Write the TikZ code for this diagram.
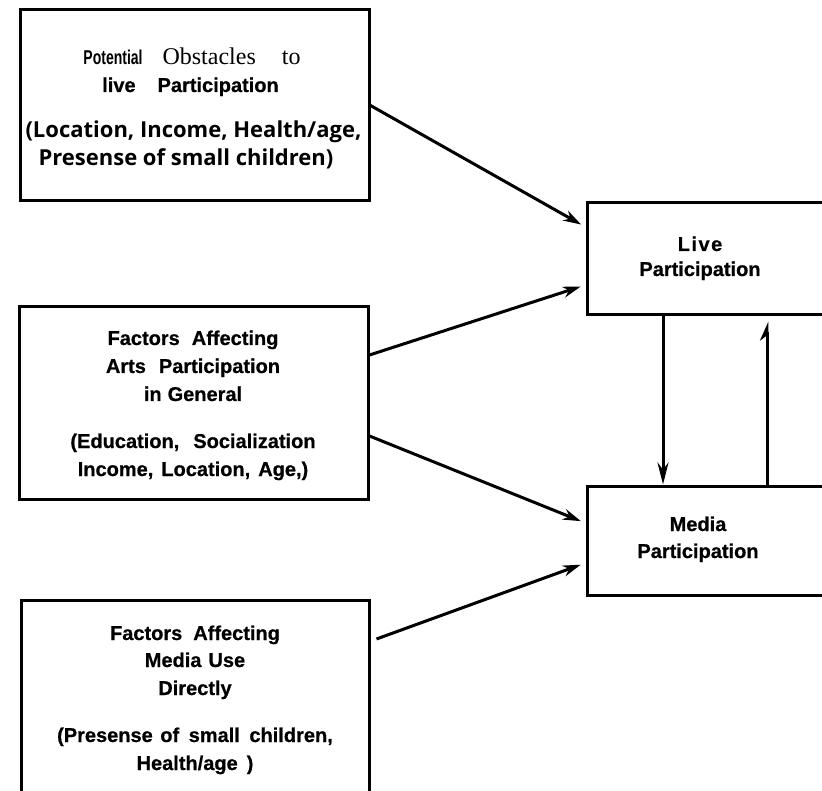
\documentclass[tikz,border=0pt]{standalone}
\usepackage{fontspec}
\usetikzlibrary{arrows.meta,calc}
\newfontfamily\af[BoldFeatures={FakeBold=0.6}]{Liberation Sans}
\newfontfamily\pf[FakeStretch=0.7]{Liberation Sans}
\newfontfamily\tf{Liberation Serif}
\newfontfamily\of{Open Sans}
\tikzset{
  box/.style={draw, line width=3pt, rectangle, inner sep=0pt},
  txt/.style={anchor=base, inner sep=0pt, font=\af\bfseries\fontsize{20}{24}\selectfont},
  ptxt/.style={anchor=base, inner sep=0pt, font=\of\bfseries\fontsize{22}{24}\selectfont},
  link/.style={line width=3pt, -{Stealth[length=18pt,width=11pt]}, shorten >=5pt},
}
\begin{document}
\begin{tikzpicture}[x=1pt,y=-1pt]
\useasboundingbox (0,0) rectangle (822,791);
\fill[white] (0,0) rectangle (822,791);
\clip (0,0) rectangle (822,791);
% boxes
\node[box, minimum width=349, minimum height=191] (obst) at (194.5,105.5) {};
\node[box, minimum width=349, minimum height=192] (arts) at (193.5,403) {};
\node[box, minimum width=348, minimum height=240] (use) at (195,720) {};
\node[box, minimum width=263, minimum height=112] (live) at (718.5,259) {};
\node[box, minimum width=263, minimum height=109] (media) at (718.5,540.5) {};
% box 1 text
\node[txt] (o1) at (192,65) {{\pf\bfseries\fontsize{20}{22}\selectfont Potential}\hspace{20pt}{\tf\mdseries\fontsize{24}{28}\selectfont Obstacles\hspace{26pt}to}};
\node[txt] (o2) at (190.5,92) {live\hspace{22pt}Participation};
\node[ptxt] (o3) at (193.5,138) {(Location, Income, Health/age,};
\node[ptxt] (o4) at (186,166) {Presense of small children)};
% box 2 text
\node[txt] (a1) at (193,345) {Factors\hspace{12pt}Affecting};
\node[txt] (a2) at (193,373) {Arts\hspace{13pt}Participation};
\node[txt] (a3) at (193,401) {in\hspace{6pt}General};
\node[txt] (a4) at (193,448) {(Education,\hspace{14pt}Socialization};
\node[txt] (a5) at (193,476) {Income,\hspace{8pt}Location,\hspace{8pt}Age,)};
% box 3 text
\node[txt] (u1) at (195,640) {Factors\hspace{11pt}Affecting};
\node[txt] (u2) at (195,667) {Media\hspace{7pt}Use};
\node[txt] (u3) at (195,695) {Directly};
\node[txt] (u4) at (195,742) {(Presense\hspace{2pt} of\hspace{4pt} small\hspace{4pt} children,};
\node[txt] (u5) at (195,770) {Health/age\hspace{9pt})};
% right boxes text
\node[txt] (l1) at (700,251) {L\kern1.5pt i\kern1.5pt v\kern1.5pt e};
\node[txt] (l2) at (700,276) {Participation};
\node[txt] (m1) at (698,531) {Media};
\node[txt] (m2) at (698,558) {Participation};
% connectors
\draw[link] (obst.east) -- ($(live.west)+(0,-32)$);
\draw[link] ($(arts.east)+(0,-48)$) -- ($(live.west)+(0,26)$);
\draw[link] ($(arts.east)+(0,33)$) -- ($(media.west)+(0,-17.5)$);
\draw[link] ($(use.east)+(6,-81)$) -- ($(media.west)+(0,22.5)$);
\coordinate (dx) at (663,0);
\coordinate (ux) at (767,0);
\draw[line width=3pt, -{Stealth[length=22pt,width=11pt]}] (live.south -| dx) -- (media.north -| dx);
\draw[line width=3pt, -{Stealth[harpoon,length=16pt,width=14pt]}, shorten >=5pt] (media.north -| ux) -- (live.south -| ux);
\end{tikzpicture}
\end{document}
